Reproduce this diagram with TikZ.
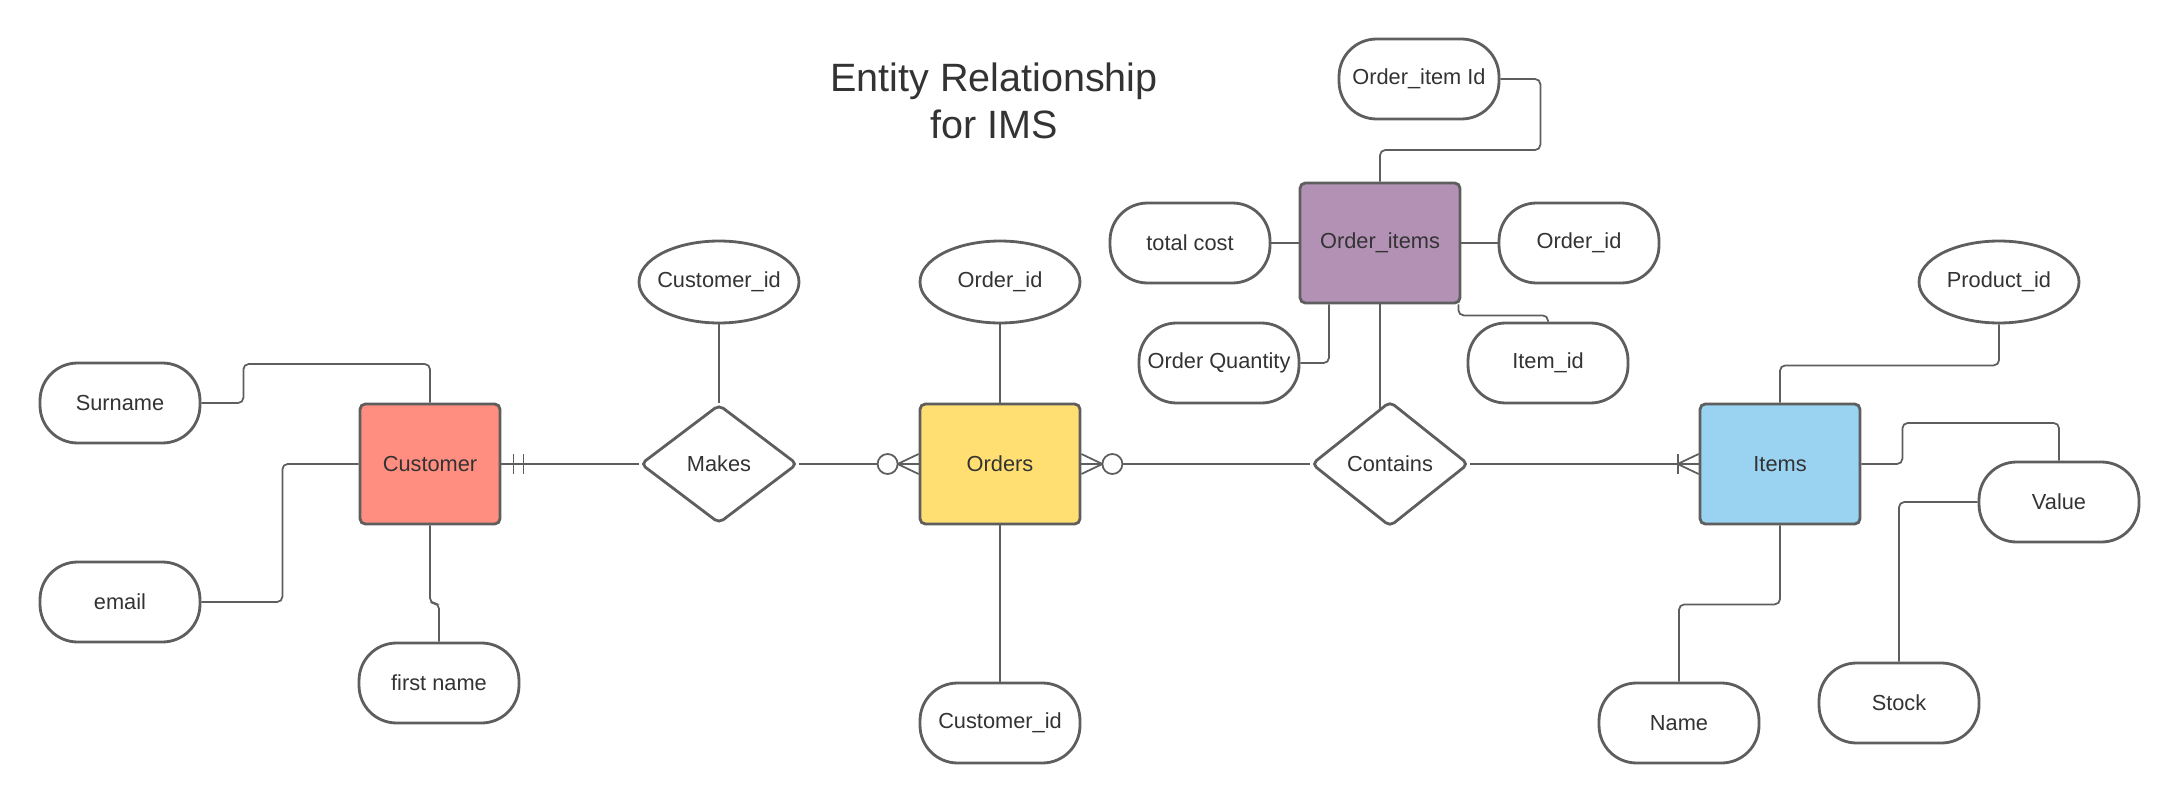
\documentclass[tikz,border=0pt]{standalone}
\usepackage{fontspec}
\setmainfont{Liberation Sans}
\usetikzlibrary{shapes.geometric}

\definecolor{linegray}{HTML}{5E5E5E}
\definecolor{txtgray}{HTML}{333333}
\definecolor{custred}{HTML}{FF8E80}
\definecolor{ordyellow}{HTML}{FFDF71}
\definecolor{itemblue}{HTML}{9AD2F2}
\definecolor{oipurple}{HTML}{B291B5}

\begin{document}
\begin{tikzpicture}
  [x=0.02cm,y=-0.02cm,font=\fontsize{12.4}{14}\selectfont,text=txtgray,
   entity_style/.style={rectangle,draw=linegray,line width=1.6pt,rounded corners=3pt,minimum width=3.2cm,minimum height=2.4cm},
   attr_style/.style={rectangle,draw=linegray,line width=1.6pt,rounded corners=0.75cm,fill=white,minimum width=3.2cm,minimum height=1.6cm},
   key_style/.style={ellipse,draw=linegray,line width=1.6pt,fill=white,inner xsep=-0.15cm,minimum width=3.2cm,minimum height=1.64cm},
   rel_style/.style={diamond,draw=linegray,line width=1.6pt,rounded corners=3pt,fill=white,minimum width=3.14cm,minimum height=2.38cm},
   edge_style/.style={draw=linegray,line width=1pt,rounded corners=3pt},
   mark_style/.style={draw=linegray,line width=1pt},
   title_style/.style={font=\fontsize{22.5}{26.8}\selectfont,align=center}]
  \useasboundingbox (0,0) rectangle (2180,804);
  \node[title_style] (title) at (994,101) {Entity Relationship\\for IMS};
  % entities and relations
  \node[entity_style,fill=custred,minimum width=2.8cm] (cust) at (430,464) {Customer};
  \node[entity_style,fill=ordyellow] (orders) at (1000,464) {Orders};
  \node[entity_style,fill=itemblue] (items) at (1780,464) {Items};
  \node[entity_style,fill=oipurple] (oitems) at (1380,243) {Order\_items};
  \node[rel_style] (makes) at (719,464) {Makes};
  \node[rel_style] (contains) at (1390,464) {Contains};
  % attributes
  \node[attr_style] (surname) at (120,403) {Surname};
  \node[attr_style] (email) at (120,602) {email};
  \node[attr_style] (fname) at (439,683) {first name};
  \node[key_style] (custid) at (719,282) {Customer\_id};
  \node[key_style] (ordid) at (1000,282) {Order\_id};
  \node[attr_style] (ordcust) at (1000,723) {Customer\_id};
  \node[attr_style] (oiid) at (1419,79) {Order\_item Id};
  \node[attr_style] (cost) at (1190,243) {total cost};
  \node[attr_style] (oiord) at (1579,243) {Order\_id};
  \node[attr_style] (qty) at (1219,363) {Order Quantity};
  \node[attr_style] (itemid) at (1548,363) {Item\_id};
  \node[key_style] (prodid) at (1999,282) {Product\_id};
  \node[attr_style] (value) at (2059,502) {Value};
  \node[attr_style] (stock) at (1899,703) {Stock};
  \node[attr_style] (name) at (1679,723) {Name};
  % connectors
  \draw[edge_style] (surname.east) -- ++(42,0) -- ++(0,-39) -| (cust.north);
  \draw[edge_style] (email.east) -- ++(81,0) |- (cust.west);
  \draw[edge_style] (cust.south) -- ++(0,78) -| (fname.north);
  \draw[edge_style] (cust.east) -- (makes.west);
  \draw[edge_style] (makes.east) -- (orders.west);
  \draw[edge_style] (orders.east) -- (contains.west);
  \draw[edge_style] (contains.east) -- (items.west);
  \draw[edge_style] (custid.south) -- (makes.north);
  \draw[edge_style] (ordid.south) -- (orders.north);
  \draw[edge_style] (orders.south) -- (ordcust.north);
  \draw[edge_style] (oiid.east) -- ++(40,0) -- ++(0,71) -| (oitems.north);
  \draw[edge_style] (cost.east) -- (oitems.west);
  \draw[edge_style] (oitems.east) -- (oiord.west);
  \draw[edge_style] (oitems.south) ++(-51,0) |- (qty.east);
  \draw[edge_style] (oitems.south east) ++(-3,0) -- ++(0,11) -| (itemid.north);
  \draw[edge_style] (oitems.south) -- (oitems.south |- contains.102);
  \draw[edge_style] (prodid.south) -- ++(0,41) -| (items.north);
  \draw[edge_style] (items.east) -- ++(41,0) -- ++(0,-41) -| (value.north);
  \draw[edge_style] (value.west) -| (stock.north);
  \draw[edge_style] (items.south) -- ++(0,79) -| (name.north);
  % cardinality marks
  \draw[mark_style] (cust.east) ++(12,-10) -- ++(0,20) ++(10,-20) -- ++(0,20);
  \draw[mark_style] (orders.west) ++(0,-10) -- ++(-21,10) -- ++(21,10);
  \draw[mark_style,fill=white] (orders.west) ++(-31,0) circle[radius=0.2cm];
  \draw[mark_style] (orders.east) ++(0,-10) -- ++(21,10) -- ++(-21,10);
  \draw[mark_style,fill=white] (orders.east) ++(31,0) circle[radius=0.2cm];
  \draw[mark_style] (items.west) ++(0,-10) -- ++(-21,10) -- ++(21,10);
  \draw[mark_style] (items.west) ++(-21,-10) -- ++(0,20);
\end{tikzpicture}
\end{document}
